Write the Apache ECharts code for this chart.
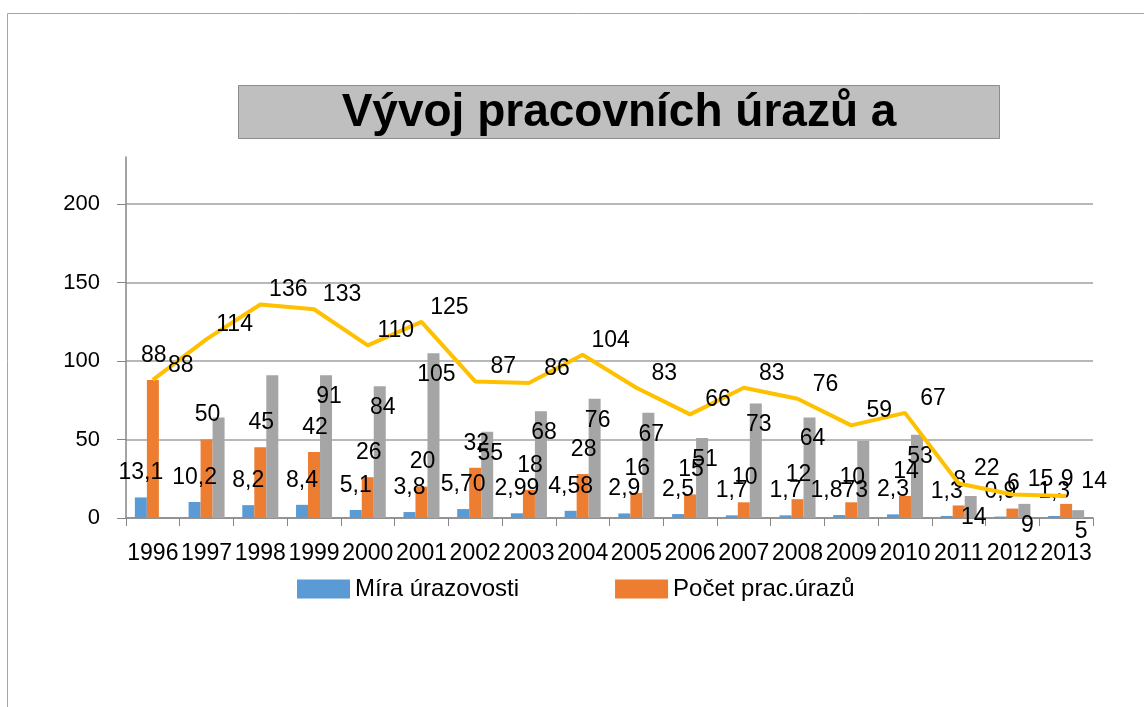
<!DOCTYPE html>
<html>
<head>
<meta charset="utf-8">
<script src="https://cdn.jsdelivr.net/npm/echarts@6/dist/echarts.min.js"></script>
<style>
  html, body { margin: 0; padding: 0; background: #fff; }
  #chart { width: 1144px; height: 707px; }
</style>
</head>
<body>
<div id="chart"></div>
<script>
// roky
const roky = ['1996', '1997', '1998', '1999', '2000', '2001', '2002', '2003', '2004',
    '2005', '2006', '2007', '2008', '2009', '2010', '2011', '2012', '2013'];
// Míra úrazovosti (kept as text so that "5,70" keeps its zero)
const mira = ['13.1', '10.2', '8.2', '8.4', '5.1', '3.8', '5.70', '2.99', '4.58',
    '2.9', '2.5', '1.7', '1.7', '1.873', '2.3', '1.3', '0.9', '1.3'];
// Počet prac.úrazů
const pocet = [88, 50, 45, 42, 26, 20, 32, 18, 28, 16, 15, 10, 12, 10, 14, 8, 6, 9];
// third (grey) series, no bar in 1996
const ostatni = [null, 64, 91, 91, 84, 105, 55, 68, 76, 67, 51, 73, 64, 49, 53, 14, 9, 5];
// yellow line
const celkem = [88, 114, 136, 133, 110, 125, 87, 86, 104, 83, 66, 83, 76, 59, 67, 22, 15, 14];
// grey labels that are not visible in the picture
const skryteStitky = ['1997', '1998', '2009'];

const yTicks = [0, 50, 100, 150, 200];

const font = 'Liberation Sans';
const carka = function (p) {
    return String(p.value).replace('.', ',');
};

let chart = echarts.init(document.getElementById('chart'));

let labelBase = {
    show: true,
    color: '#000',
    fontFamily: font,
    fontSize: 23,
    formatter: carka
};

let option = {
    backgroundColor: '#fff',
    animation: false,
    // rámeček a titulek
    graphic: [
        {
            type: 'rect',
            shape: { x: 7.5, y: 13.5, width: 1200, height: 800 },
            style: { fill: 'none', stroke: '#a6a6a6', lineWidth: 1 }
        },
        {
            type: 'rect',
            shape: { x: 238.5, y: 85.5, width: 761, height: 53 },
            style: { fill: '#bfbfbf', stroke: '#8c8c8c', lineWidth: 1 }
        },
        {
            type: 'text',
            x: 619,
            y: 113,
            style: {
                text: 'Vývoj pracovních úrazů a',
                fill: '#000',
                font: 'bold 46px "Liberation Sans"',
                align: 'center',
                verticalAlign: 'middle'
            }
        }
    ],
    legend: {
        data: ['Míra úrazovosti', 'Počet prac.úrazů'],
        left: 292,
        top: 572,
        itemWidth: 53,
        itemHeight: 19,
        itemGap: 96,
        icon: 'rect',
        textStyle: {
            color: '#000',
            fontFamily: font,
            fontSize: 24
        }
    },
    grid: {
        left: 126,
        right: 51,
        top: 157,
        bottom: 189
    },
    xAxis: {
        type: 'category',
        data: roky,
        axisLine: { lineStyle: { color: '#868686', width: 1.5 } },
        axisTick: { show: true, length: 8, lineStyle: { color: '#868686' } },
        axisLabel: {
            interval: 0,
            margin: 24,
            color: '#000',
            fontFamily: font,
            fontSize: 23
        }
    },
    yAxis: {
        type: 'value',
        min: 0,
        max: 230,
        interval: 50,
        axisLine: { show: true, lineStyle: { color: '#868686', width: 1.5 } },
        axisTick: { show: true, length: 9, lineStyle: { color: '#868686' } },
        axisLabel: {
            margin: 26,
            color: '#000',
            fontFamily: font,
            fontSize: 22,
            showMaxLabel: false,
            formatter: function (v) {
                return yTicks.indexOf(v) >= 0 ? String(v) : '';
            }
        },
        splitLine: {
            show: true,
            showMaxLine: false,
            lineStyle: { color: '#a0a0a0', width: 1.5 }
        }
    },
    series: [
        {
            name: 'Míra úrazovosti',
            type: 'bar',
            barWidth: 12,
            barGap: '0%',
            itemStyle: { color: '#5b9bd5' },
            label: Object.assign({}, labelBase, { position: 'top', distance: 7, offset: [0, -6] }),
            data: mira
        },
        {
            name: 'Počet prac.úrazů',
            type: 'bar',
            barWidth: 12,
            barGap: '0%',
            itemStyle: { color: '#ed7d31' },
            label: Object.assign({}, labelBase, { position: 'top', distance: 7, offset: [1, -6] }),
            data: pocet
        },
        {
            name: 'Ostatní',
            type: 'bar',
            barWidth: 12,
            barGap: '0%',
            itemStyle: { color: '#a5a5a5' },
            label: Object.assign({}, labelBase, { position: 'insideTop', distance: 6, offset: [3, 4] }),
            data: ostatni.map(function (v, i) {
                if (skryteStitky.indexOf(roky[i]) >= 0) {
                    return { value: v, label: { show: false } };
                }
                return v;
            })
        },
        {
            name: 'Celkem',
            type: 'line',
            symbol: 'circle',
            symbolSize: 0.1,
            lineStyle: { color: '#ffc000', width: 4 },
            itemStyle: { color: '#ffc000' },
            label: Object.assign({}, labelBase, { position: 'top', distance: 5, offset: [28, 2] }),
            z: 3,
            data: celkem
        }
    ]
};

chart.setOption(option);
</script>
</body>
</html>
